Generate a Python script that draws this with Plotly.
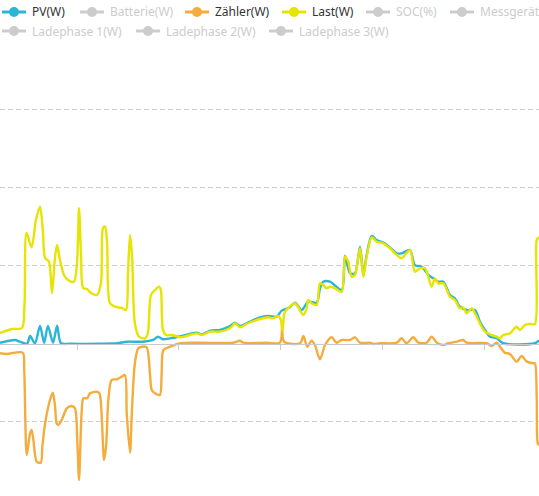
import plotly.graph_objects as go

# ---------------- data (time in hours, power in W) ----------------
pv_t = [0.98, 1.57, 1.76, 2.04, 2.16, 2.35, 2.55, 2.71, 2.86, 3.06, 3.22, 3.37, 3.73, 4.90, 5.57, 5.96,
        6.59, 6.98, 7.18, 7.37, 7.65, 8.04, 8.69, 8.89, 9.22, 9.61, 10.0, 10.2, 10.39, 10.65, 11.18,
        11.50, 11.83, 12.03, 12.35, 12.55, 12.81, 13.07, 13.40, 13.53, 13.66, 13.92, 14.38, 14.51,
        14.71, 14.90, 15.10, 15.23, 15.36, 15.56, 15.75, 16.01, 16.27, 16.54, 16.73, 17.06, 17.25,
        17.52, 17.78, 17.97, 18.17, 18.37, 18.63, 18.82, 19.02, 19.28, 19.61, 19.80, 20.0, 20.20,
        20.46, 20.72, 21.96, 22.12]
pv_w = [13, 48, 26, 0, 99, 6, 227, 13, 227, 13, 231, 6, 0, 0, 6, 26,
        26, 48, 90, 57, 69, 95, 142, 120, 167, 176, 227, 269, 227, 261, 338,
        355, 346, 423, 466, 525, 431, 537, 525, 708, 793, 793, 687, 1121,
        900, 900, 1240, 879, 1134, 1377, 1326, 1292, 1232, 1155, 1155, 1198, 1006,
        985, 879, 836, 793, 793, 623, 581, 473, 431, 431, 282, 176, 90,
        70, 6, 6, 45]

last_t = [0.98, 1.45, 1.84, 1.94, 2.02, 2.22, 2.39, 2.55, 2.66, 2.75, 2.90, 3.02, 3.14, 3.22, 3.33,
          3.49, 3.65, 3.88, 4.00, 4.08, 4.16, 4.24, 4.39, 4.55, 4.78, 4.94, 5.02, 5.10, 5.18, 5.29,
          5.49, 5.76, 5.92, 6.00, 6.08, 6.16, 6.27, 6.43, 6.67, 6.78, 6.90, 7.06, 7.22, 7.29, 7.37,
          7.49, 7.73, 8.04, 8.69, 8.89, 9.22, 9.61, 10.0, 10.2, 10.39, 10.65, 11.18, 11.50, 11.70,
          11.89, 12.00, 12.06, 12.12, 12.16, 12.42, 12.55, 12.68, 12.87, 13.01, 13.07, 13.20, 13.40,
          13.53, 13.66, 13.79, 13.92, 14.12, 14.38, 14.51, 14.64, 14.77, 14.90, 15.10, 15.23, 15.36,
          15.56, 15.75, 16.01, 16.27, 16.54, 16.73, 17.06, 17.25, 17.45, 17.65, 17.91, 18.04, 18.17,
          18.37, 18.63, 18.82, 19.02, 19.15, 19.28, 19.48, 19.61, 19.80, 20.0, 20.26, 20.46, 20.59,
          20.72, 20.98, 21.24, 21.37, 21.57, 21.76, 21.96, 22.03, 22.12]
last_w = [137, 188, 201, 500, 1415, 1233, 1581, 1752, 1450, 1096, 1049, 649, 1113, 1262, 1070,
          879, 815, 793, 1032, 1731, 1113, 712, 699, 649, 623, 776, 1479, 1496, 1288, 520,
          473, 457, 431, 904, 1390, 1113, 261, 90, 69, 137, 623, 687, 730, 687, 176,
          112, 112, 82, 133, 112, 154, 154, 197, 261, 210, 252, 316, 338, 325,
          355, 300, 163, 367, 410, 495, 517, 466, 367, 453, 559, 517, 495,
          772, 751, 708, 729, 708, 665, 1112, 1049, 857, 879, 1220, 857, 1112,
          1360, 1304, 1283, 1220, 1134, 1092, 1198, 921, 964, 964, 729, 836, 772,
          772, 601, 559, 453, 466, 389, 453, 389, 261, 154, 112, 90, 70,
          112, 133, 218, 176, 240, 252, 252, 1326, 1364]

grid_t = [0.98, 1.24, 1.87, 1.93, 2.03, 2.16, 2.22, 2.29, 2.42, 2.58, 2.64, 2.75, 2.94, 3.05, 3.14,
          3.20, 3.27, 3.40, 3.60, 3.79, 3.92, 4.01, 4.08, 4.18, 4.25, 4.40, 4.51, 4.77, 4.88, 4.97,
          5.06, 5.14, 5.23, 5.36, 5.56, 5.75, 5.88, 5.95, 6.08, 6.15, 6.27, 6.40, 6.54, 6.73, 6.86,
          6.93, 7.06, 7.25, 7.32, 7.39, 7.65, 8.04, 8.82, 10.13, 10.39, 10.52, 11.44, 11.96, 12.05,
          12.12, 12.75, 12.88, 13.03, 13.20, 13.33, 13.53, 13.73, 13.99, 14.18, 14.38, 14.71, 14.90,
          15.10, 15.49, 15.62, 15.88, 16.54, 16.73, 16.93, 17.19, 17.39, 17.71, 17.91, 18.11, 18.37,
          18.56, 18.89, 19.15, 19.28, 20.07, 20.26, 20.46, 20.59, 20.78, 20.98, 21.24, 21.44, 21.64,
          21.90, 21.96, 22.03, 22.07, 22.12]
grid_w = [-122, -131, -114, -335, -1422, -1145, -1102, -1230, -1507, -1520, -1316, -1017, -719, -625, -804,
          -1017, -1038, -974, -825, -796, -825, -1230, -1741, -889, -697, -697, -633, -613, -633, -932,
          -1486, -1316, -719, -463, -454, -421, -399, -889, -1392, -889, -250, -58, -38, -45, -378,
          -591, -633, -655, -378, -80, -38, 6, 13, 13, 39, 13, 13, 13, 282,
          26, 6, 99, -38, 39, -16, -199, -16, 82, 13, 48, 48, 82,
          13, 13, -3, 6, 13, 70, 6, 82, 13, 13, 90, 13, -16,
          6, 26, 48, 13, 6, -29, 13, -38, -114, -131, -229, -157, -229,
          -250, -250, -677, -1272, -1294]

legend_row1 = ["PV(W)", "Batterie(W)", "Zähler(W)", "Last(W)", "SOC(%)", "Messgerät(W)"]
legend_row2 = ["Ladephase 1(W)", "Ladephase 2(W)", "Ladephase 3(W)"]

x_ticks = [4, 8, 12, 16, 20]
y_ticks = [-2000, -1000, 1000, 2000, 3000]
X_RANGE = [0.98, 22.12]
Y_RANGE = [-1946, 4393]

# ---------------- style ----------------
W, H = 539, 496
C_PV = "#2bb5d6"
C_GRID = "#f4ac3d"
C_LAST = "#e6e400"
C_OFF = "#cccccc"
AXIS_C = "#c8c9d0"
FONT = "Noto Sans"

fig = go.Figure()
for t, w, c in [(pv_t, pv_w, C_PV), (grid_t, grid_w, C_GRID), (last_t, last_w, C_LAST)]:
    fig.add_trace(go.Scatter(x=t, y=w, mode="lines",
                             line=dict(color=c, width=2.4, shape="spline", smoothing=0.8),
                             hoverinfo="skip", showlegend=False))

pos0 = (0 - Y_RANGE[0]) / (Y_RANGE[1] - Y_RANGE[0])
fig.update_layout(
    width=W, height=H, margin=dict(l=0, r=0, t=0, b=0),
    paper_bgcolor="white", plot_bgcolor="white", showlegend=False,
    xaxis=dict(range=X_RANGE, tickvals=x_ticks, showticklabels=False, showgrid=False,
               zeroline=False, showline=True, linecolor=AXIS_C, linewidth=1,
               ticks="outside", ticklen=5, tickcolor=AXIS_C,
               anchor="free", position=pos0),
    yaxis=dict(range=Y_RANGE, tickvals=y_ticks, showticklabels=False, showgrid=True,
               gridcolor="#cfcfcf", griddash="5px,3px", gridwidth=1, zeroline=False,
               showline=False),
)

# ---------------- legend (manual, ECharts style) ----------------
shapes = []
annots = []
row1_left = [2, 80, 185, 282, 366, 450]
row2_left = [2, 136, 269]
row1_on = [C_PV, None, C_GRID, C_LAST, None, None]

def add_item(left, ypix, label, color):
    col = color if color else C_OFF
    yf = 1 - ypix / H
    shapes.append(dict(type="line", xref="paper", yref="paper",
                       x0=left / W, x1=(left + 24) / W, y0=yf, y1=yf,
                       line=dict(color=col, width=3), layer="above"))
    shapes.append(dict(type="circle", xref="paper", yref="paper",
                       xsizemode="pixel", ysizemode="pixel",
                       xanchor=(left + 12) / W, yanchor=yf,
                       x0=-5, x1=5, y0=-5, y1=5,
                       fillcolor=col, line=dict(width=0), layer="above"))
    annots.append(dict(text=label, xref="paper", yref="paper", x=(left + 28) / W, y=yf,
                       xanchor="left", yanchor="middle", showarrow=False,
                       font=dict(family=FONT, size=12, color="#333333" if color else C_OFF)))

for left, lab, c in zip(row1_left, legend_row1, row1_on):
    add_item(left, 12, lab, c)
for left, lab in zip(row2_left, legend_row2):
    add_item(left, 31, lab, None)

fig.update_layout(shapes=shapes, annotations=annots)
fig.write_html("out.html", config={"displayModeBar": False},
               post_script="document.body.style.margin='0';")
